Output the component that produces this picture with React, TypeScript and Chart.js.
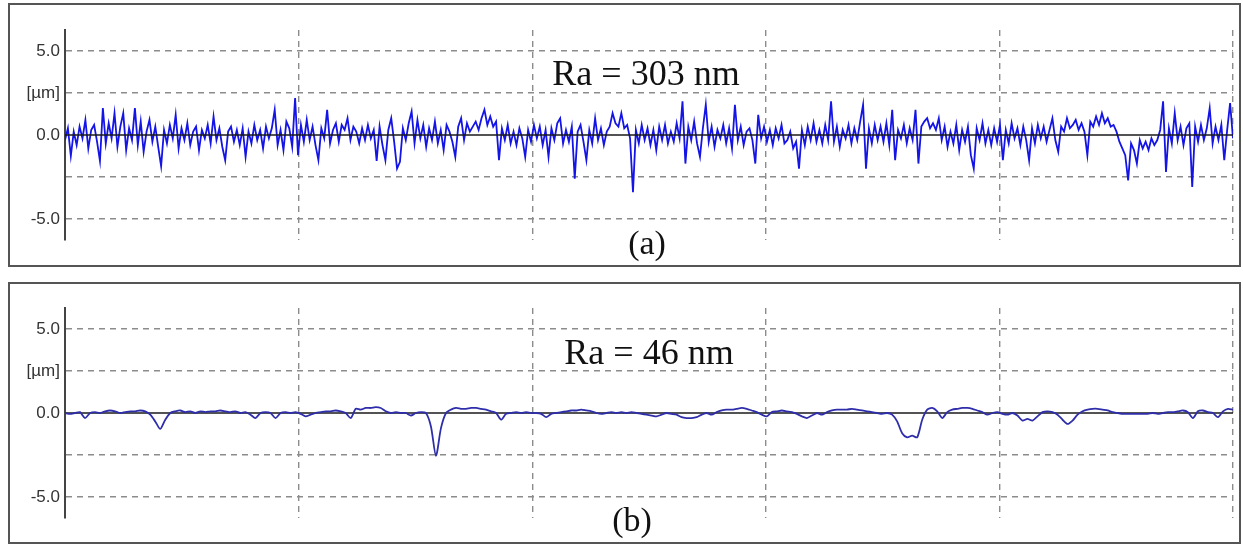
import React, { useEffect, useRef } from "react";
import { Chart, registerables } from "chart.js";

Chart.register(...registerables);

// ---- axis definitions ----
const Y_TICKS = [5, 2.5, 0, -2.5, -5];
const Y_TICK_LABELS = ["5.0", "[µm]", "0.0", "", "-5.0"];
const Y_MIN = -6.25;
const Y_MAX = 6.25;
const X_GRID = [0, 1, 2, 3, 4, 5];
const X_MAX = 5;

const LABEL_A = "Ra = 303 nm";
const LABEL_B = "Ra = 46 nm";
const CAPTION_A = "(a)";
const CAPTION_B = "(b)";

// ---- profile (a): rough surface, height in µm, equally spaced samples ----
const profileA = [
  -0.3, 0.4, -1.25, 0.2, -0.6, 0.5, -0.2, 0.9, -0.8, 0.3, 0.6, -0.4, -1.55, 1.6, -0.5, 0.7, -0.2, 1.3, -0.7, 0.5,
  1.3, -0.9, 0.4, -0.3, 1.6, -0.6, 0.8, -1.0, 0.2, 0.9, -0.4, 0.5, -0.7, -1.85, 0.3, -0.5, 0.6, -0.2, 1.2, -0.8,
  0.4, -0.3, 0.7, -0.6, 0.2, 0.5, -0.9, 0.3, -0.2, 0.6, -0.5, 1.1, -0.3, 0.4, -0.7, -1.5, 0.2, 0.5, -0.4, 0.3,
  -0.6, 0.4, -1.3, 0.2, -0.5, 0.6, -0.3, 0.3, -0.8, 0.5, -0.2, 0.4, 1.5, -0.6, 0.3, -0.9, 0.8, 0.4, -0.7, 2.2,
  -1.2, 0.6, -0.4, 0.9, -0.3, 0.5, -0.6, -1.5, 0.4, -0.2, 1.5, -0.5, 0.3, 0.7, -0.4, 0.6, 0.3, 1.0, -0.3, 0.5,
  0.2, -0.5, 0.4, -0.3, 0.6, -0.2, 0.3, -1.55, 0.5, -0.6, -1.5, 0.3, 1.0, -0.4, -2.0, -1.6, 0.4, -0.3, 0.7, 1.4,
  -0.5, 0.9, -0.2, 0.6, -0.7, 0.4, -0.3, 0.8, -0.5, 0.3, -0.9, 0.6, 0.2, -0.4, -1.3, 0.5, 1.0, -0.3, 0.7, 0.2,
  0.5, 0.8, 0.3, 1.0, 1.5, 0.6, 1.1, 0.5, 0.8, -1.5, 0.4, -0.3, 0.6, -0.5, 0.2, -0.6, 0.4, -0.2, -1.3, 0.3,
  -0.4, 0.6, -0.2, 0.5, -0.6, 0.3, -1.3, 0.4, -0.3, 0.7, 1.0, -0.5, 0.3, -0.4, 0.5, -2.6, 0.2, 0.6, -0.4, -1.5,
  0.3, -0.5, 1.0, -0.3, 0.4, -0.6, 0.2, 0.5, 1.3, 0.7, 0.5, 1.3, 0.4, 0.6, -0.2, -3.4, 0.3, -0.5, 0.6, -0.3,
  0.4, -0.6, 0.3, -0.9, 0.5, -0.3, 0.6, -0.5, 0.2, -0.4, 0.7, -0.2, 2.0, -1.7, 0.5, -0.3, 0.8, -0.5, -1.3, 0.4,
  1.8, -0.4, 0.5, -0.7, 0.3, -0.2, 0.6, -0.5, 0.4, -0.8, 1.8, -0.3, 0.5, -0.6, 0.2, 0.4, -0.3, -1.7, 1.2, -0.2,
  0.5, -0.4, 0.3, -0.6, 0.4, -0.2, 0.6, -0.5, -0.3, 0.2, -0.8, -0.4, -2.0, 0.3, -0.6, 0.5, -0.3, 0.7, -0.4, 0.3,
  -0.5, 0.6, -0.3, 2.0, -0.4, 0.5, -0.7, 0.3, -0.2, 0.6, -0.5, 0.4, -0.3, 0.8, 1.8, -2.0, 0.4, -0.5, 0.6, -0.3,
  0.5, -0.4, 0.7, -0.6, 1.5, -1.5, 0.3, -0.2, 0.6, -0.5, 0.4, -0.3, 1.5, -1.7, 0.5, 0.8, 1.0, 0.4, 0.7, 0.3,
  1.0, -0.3, 0.5, -0.7, 0.2, -0.5, 0.6, -0.9, 0.3, -0.4, 0.5, -1.2, -2.0, 0.4, -0.3, 0.7, -0.5, 0.3, -0.6, 0.4,
  -0.4, 0.6, -1.5, 0.3, -0.5, 0.7, -0.2, 0.4, -0.6, 0.5, -0.3, -1.5, 0.4, -0.5, 0.6, -0.2, 0.5, -0.4, 0.3, 1.0,
  -0.3, -1.0, 0.5, 0.2, 1.0, 0.4, 0.6, 0.9, 0.3, 0.7, 0.2, -1.2, 0.8, 0.5, 1.1, 0.6, 1.3, 0.7, 1.0, 0.5,
  0.6, 0.2, -0.4, -0.8, -1.2, -2.7, -0.5, -0.9, -1.7, -0.3, -0.8, -0.4, -0.9, -0.2, -0.6, -0.3, 0.3, 2.0, -2.2, 0.4,
  -0.5, 1.3, -0.3, 0.5, -0.6, 0.4, 0.7, -3.1, 0.5, -0.4, 0.6, -0.3, 0.4, 1.6, -0.5, 0.5, -0.3, 0.6, -1.5, 0.3,
  1.9, -0.2,
];

// ---- profile (b): polished surface, height in µm, equally spaced samples ----
const profileB = [
  0.0, -0.05, 0.0, 0.05, -0.3, 0.0, 0.05, 0.0, 0.1, 0.15,
  0.1, 0.0, 0.05, 0.1, 0.1, 0.15, 0.1, -0.1, -0.5, -0.95,
  -0.4, 0.0, 0.1, 0.15, 0.05, 0.1, 0.0, 0.1, 0.05, 0.1,
  0.1, 0.15, 0.1, 0.05, 0.1, 0.0, 0.05, -0.1, -0.3, 0.0,
  0.05, 0.0, -0.3, 0.0, 0.05, 0.0, 0.05, -0.05, -0.2, -0.1,
  0.0, 0.05, 0.1, 0.1, 0.15, 0.1, 0.0, -0.3, 0.25, 0.2,
  0.3, 0.3, 0.35, 0.3, 0.1, 0.0, 0.05, 0.0, 0.0, -0.15,
  0.0, 0.05, 0.0, -0.8, -2.55, -0.9, 0.0, 0.2, 0.3, 0.25,
  0.25, 0.3, 0.3, 0.25, 0.2, 0.1, 0.0, -0.4, -0.05, 0.0,
  0.05, 0.0, 0.05, 0.0, 0.0, -0.05, -0.25, -0.05, 0.0, 0.05,
  0.1, 0.15, 0.15, 0.2, 0.15, 0.1, 0.0, -0.05, 0.0, 0.05,
  0.0, 0.05, 0.0, 0.05, 0.0, -0.05, -0.1, -0.15, -0.2, -0.1,
  0.0, -0.05, -0.1, -0.25, -0.3, -0.3, -0.25, -0.1, 0.0, -0.1,
  0.05, 0.15, 0.2, 0.2, 0.25, 0.3, 0.25, 0.15, 0.05, -0.1,
  -0.2, 0.05, 0.1, 0.15, 0.1, 0.05, -0.05, -0.2, -0.3, -0.15,
  0.0, -0.1, 0.05, 0.15, 0.2, 0.2, 0.2, 0.25, 0.2, 0.15,
  0.1, 0.05, 0.0, -0.05, 0.0, -0.1, -0.5, -1.2, -1.45, -1.35,
  -1.45, -0.4, 0.2, 0.3, 0.1, -0.3, 0.05, 0.2, 0.25, 0.3,
  0.3, 0.25, 0.15, 0.05, -0.1, 0.0, 0.05, -0.05, -0.1, 0.0,
  -0.15, -0.45, -0.35, -0.45, -0.2, 0.05, 0.1, 0.05, -0.1, -0.4,
  -0.65, -0.45, -0.1, 0.1, 0.2, 0.25, 0.25, 0.2, 0.15, 0.05,
  0.0, -0.05, -0.05, -0.05, -0.05, -0.05, -0.05, 0.0, -0.05, 0.0,
  0.05, 0.05, 0.1, 0.15, 0.05, -0.3, 0.1, 0.15, 0.05, 0.0,
  -0.25, 0.1, 0.25, 0.2,
];

const GRID_COLOR = "#8c8c8c";

function toPoints(values: number[]) {
  return values.map((v, i) => ({ x: (i * X_MAX) / (values.length - 1), y: v }));
}

function makeConfig(values: number[], color: string, width: number, tension: number, zeroOnTop: boolean): any {
  const zeroLine = X_GRID.filter((_, i) => i === 0 || i === X_GRID.length - 1).map((x) => ({ x, y: 0 }));
  return {
    type: "line",
    data: {
      datasets: [
        {
          data: toPoints(values),
          borderColor: color,
          borderWidth: width,
          pointRadius: 0,
          tension,
          order: zeroOnTop ? 1 : 0,
        },
        {
          data: zeroLine,
          borderColor: "#1a1a1a",
          borderWidth: 1.5,
          pointRadius: 0,
          order: zeroOnTop ? 0 : 1,
        },
      ],
    },
    options: {
      responsive: false,
      animation: false,
      events: [],
      layout: { padding: { left: 0, right: 10, top: 30, bottom: 28 } },
      plugins: { legend: { display: false }, tooltip: { enabled: false } },
      scales: {
        x: {
          type: "linear",
          min: 0,
          max: X_MAX,
          afterBuildTicks: (s: any) => {
            s.ticks = X_GRID.map((v) => ({ value: v }));
          },
          afterFit: (s: any) => {
            s.height = 0;
          },
          ticks: { display: false },
          grid: {
            color: (c: any) => (c.tick && c.tick.value === 0 ? "rgba(0,0,0,0)" : GRID_COLOR),
            lineWidth: 1.4,
            drawTicks: false,
          },
          border: { display: false, dash: [6, 5] },
        },
        y: {
          type: "linear",
          min: Y_MIN,
          max: Y_MAX,
          afterBuildTicks: (s: any) => {
            s.ticks = Y_TICKS.map((v) => ({ value: v }));
          },
          afterFit: (s: any) => {
            s.width = 65;
          },
          ticks: {
            padding: 5,
            color: "#333333",
            font: { family: "'Liberation Sans', Arial, sans-serif", size: 17 },
            callback: (value: any) => {
              const k = Y_TICKS.indexOf(Number(value));
              return k >= 0 ? Y_TICK_LABELS[k] : "";
            },
          },
          grid: {
            color: (c: any) => (c.tick && c.tick.value === 0 ? "rgba(0,0,0,0)" : GRID_COLOR),
            lineWidth: 1.4,
            drawTicks: false,
          },
          border: { display: true, color: "#444444", width: 2, dash: [6, 5] },
        },
      },
    },
  };
}

function ChartCanvas({ top, values, color, width, tension, zeroOnTop }: any) {
  const ref = useRef<HTMLCanvasElement>(null);
  useEffect(() => {
    const chart = new Chart(ref.current as HTMLCanvasElement, makeConfig(values, color, width, tension, zeroOnTop));
    return () => chart.destroy();
  }, []);
  return (
    <canvas
      ref={ref}
      width={1243}
      height={268}
      style={{ position: "absolute", left: 0, top, width: 1243, height: 268 }}
    />
  );
}

const serif = "'Liberation Serif', 'Times New Roman', serif";

function Label({ text, cx, top, size }: { text: string; cx: number; top: number; size: number }) {
  return (
    <div
      style={{
        position: "absolute",
        left: cx,
        top,
        transform: "translateX(-50%)",
        fontFamily: serif,
        fontSize: size,
        lineHeight: `${size}px`,
        whiteSpace: "nowrap",
        color: "#111",
      }}
    >
      {text}
    </div>
  );
}

export default function App() {
  return (
    <div style={{ position: "absolute", left: 0, top: 0, width: 1243, height: 546, background: "#fff", overflow: "hidden" }}>
      <div
        style={{
          position: "absolute",
          left: 8,
          top: 3,
          width: 1233,
          height: 264,
          boxSizing: "border-box",
          border: "2px solid #555",
        }}
      />
      <div
        style={{
          position: "absolute",
          left: 8,
          top: 282,
          width: 1233,
          height: 262,
          boxSizing: "border-box",
          border: "2px solid #555",
        }}
      />
      <ChartCanvas top={0} values={profileA} color="#1414e6" width={1.8} tension={0} zeroOnTop={true} />
      <ChartCanvas top={278} values={profileB} color="#2e2eaa" width={1.8} tension={0.25} zeroOnTop={false} />
      <Label text={LABEL_A} cx={646} top={55} size={36} />
      <Label text={CAPTION_A} cx={647} top={226} size={34} />
      <Label text={LABEL_B} cx={649} top={334} size={36} />
      <Label text={CAPTION_B} cx={632} top={503} size={34} />
    </div>
  );
}
